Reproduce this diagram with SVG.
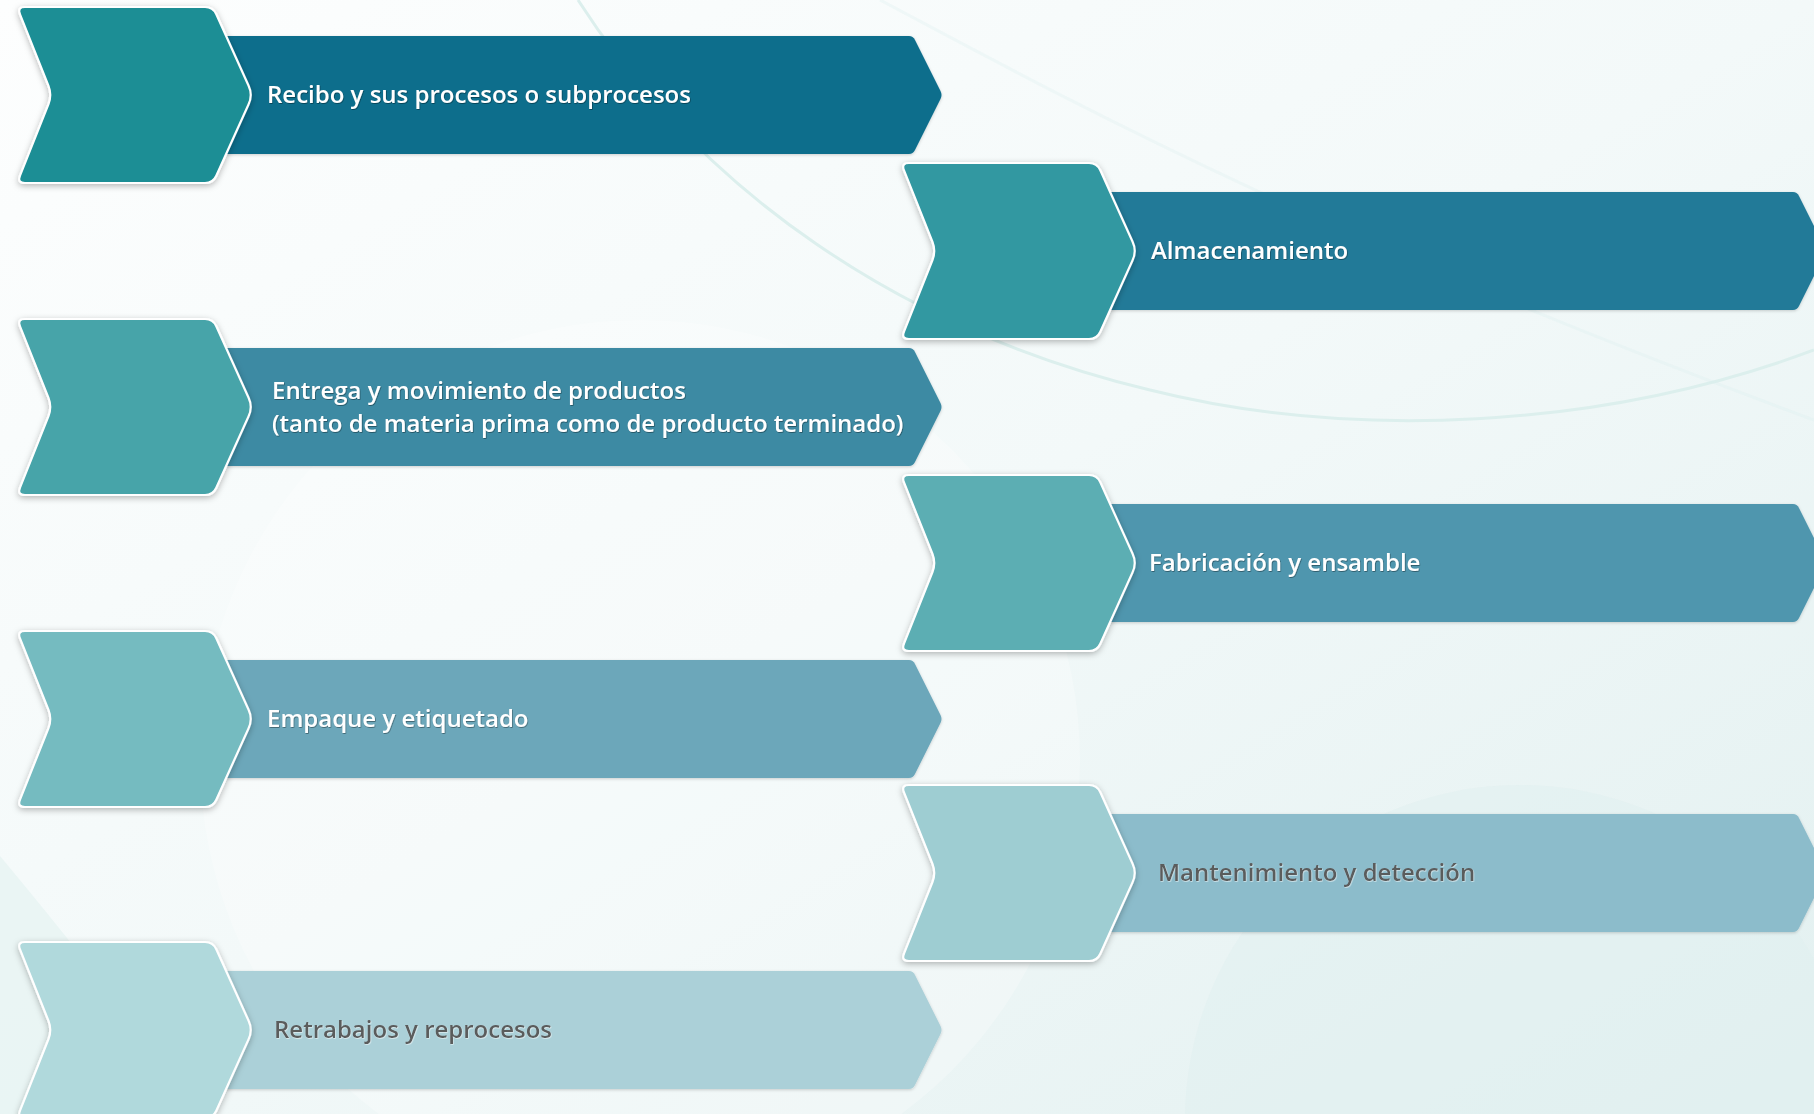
<svg xmlns="http://www.w3.org/2000/svg" width="1814" height="1114" viewBox="0 0 1814 1114">
  <defs>
    <linearGradient id="bg" x1="0" y1="0" x2="1" y2="1">
      <stop offset="0" stop-color="#fdfefe"/>
      <stop offset="0.5" stop-color="#f3f9f9"/>
      <stop offset="1" stop-color="#e2f0f0"/>
    </linearGradient>
    <filter id="sh" x="-20%" y="-20%" width="140%" height="140%">
      <feDropShadow dx="0" dy="2" stdDeviation="3" flood-color="#000" flood-opacity="0.28"/>
    </filter>
    <filter id="bsh" x="-5%" y="-20%" width="110%" height="140%">
      <feDropShadow dx="0" dy="1" stdDeviation="1.5" flood-color="#000" flood-opacity="0.18"/>
    </filter>
    <filter id="tsh" x="-5%" y="-30%" width="110%" height="160%">
      <feDropShadow dx="0.6" dy="0.8" stdDeviation="0.6" flood-color="#000" flood-opacity="0.45"/>
    </filter>
    <filter id="tshl" x="-5%" y="-30%" width="110%" height="160%">
      <feDropShadow dx="0.6" dy="0.8" stdDeviation="0.5" flood-color="#fff" flood-opacity="0.6"/>
    </filter>
    <path id="chev" d="M25,-88 L205,-88 Q213,-88 216.3,-80.7 L248.5,-9.5 Q253,0 248.5,9.5 L216.3,80.7 Q213,88 205,88 L25,88 Q17,88 20,80.6 L48.5,9 Q52,0 48.5,-9 L20,-80.6 Q17,-88 25,-88 Z"/>
    <path id="band" d="M190,-59 L909,-59 Q913,-59 915,-55 L940.5,-4 Q942.5,0 940.5,4 L915,55 Q913,59 909,59 L190,59 Z"/>
  </defs>
  <style>
    .chev { stroke: #ffffff; stroke-width: 2.2; filter: url(#sh); }
    .band { filter: url(#bsh); }
    .lbl { font-family: "Open Sans", "Noto Sans", "Liberation Sans", sans-serif; font-size: 24px; font-weight: 600; fill: #ffffff; filter: url(#tsh); }
    .lbl.dark { fill: #5a5b5c; filter: url(#tshl); }
    .deco { fill: none; stroke: #dcefed; stroke-width: 3; }
  </style>

  <rect x="0" y="0" width="1814" height="1114" fill="url(#bg)"/>
  <g id="background">
    <circle cx="1520" cy="1120" r="335" fill="#e0efef" opacity="0.5"/>
    <circle cx="640" cy="760" r="440" fill="#ffffff" opacity="0.25"/>
    <path d="M0,856 Q120,1000 200,1114 L0,1114 Z" fill="#e3f1f0" opacity="0.6"/>
    <path class="deco" d="M578,0 C700,190 900,330 1150,390 C1350,440 1600,430 1814,350"/>
    <path class="deco" stroke-width="2" opacity="0.3" d="M880,0 C1050,90 1300,230 1814,420"/>
  </g>

  <g id="connectors"></g>

  <g id="node1" transform="translate(0,95)">
    <use href="#band" class="band" fill="#0e6e8c"/>
    <use href="#chev" class="chev" fill="#1d8e95"/>
    <text class="lbl" x="267" y="8">Recibo y sus procesos o subprocesos</text>
  </g>
  <g id="node2" transform="translate(884,251)">
    <use href="#band" class="band" fill="#237a98"/>
    <use href="#chev" class="chev" fill="#3398a1"/>
    <text class="lbl" x="267" y="8">Almacenamiento</text>
  </g>
  <g id="node3" transform="translate(0,407)">
    <use href="#band" class="band" fill="#3c8aa3"/>
    <use href="#chev" class="chev" fill="#47a4a9"/>
    <text class="lbl" x="272" y="-8">Entrega y movimiento de productos<tspan x="272" y="25">(tanto de materia prima como de producto terminado)</tspan></text>
  </g>
  <g id="node4" transform="translate(884,563)">
    <use href="#band" class="band" fill="#5096ae"/>
    <use href="#chev" class="chev" fill="#5baeb3"/>
    <text class="lbl" x="265" y="8">Fabricación y ensamble</text>
  </g>
  <g id="node5" transform="translate(0,719)">
    <use href="#band" class="band" fill="#6ca7ba"/>
    <use href="#chev" class="chev" fill="#75bbc0"/>
    <text class="lbl" x="267" y="8">Empaque y etiquetado</text>
  </g>
  <g id="node6" transform="translate(884,873)">
    <use href="#band" class="band" fill="#8cbccb"/>
    <use href="#chev" class="chev" fill="#9ecdd2"/>
    <text class="lbl dark" x="274" y="8">Mantenimiento y detección</text>
  </g>
  <g id="node7" transform="translate(0,1030)">
    <use href="#band" class="band" fill="#abd0d8"/>
    <use href="#chev" class="chev" fill="#b0d9dc"/>
    <text class="lbl dark" x="274" y="8">Retrabajos y reprocesos</text>
  </g>
</svg>
